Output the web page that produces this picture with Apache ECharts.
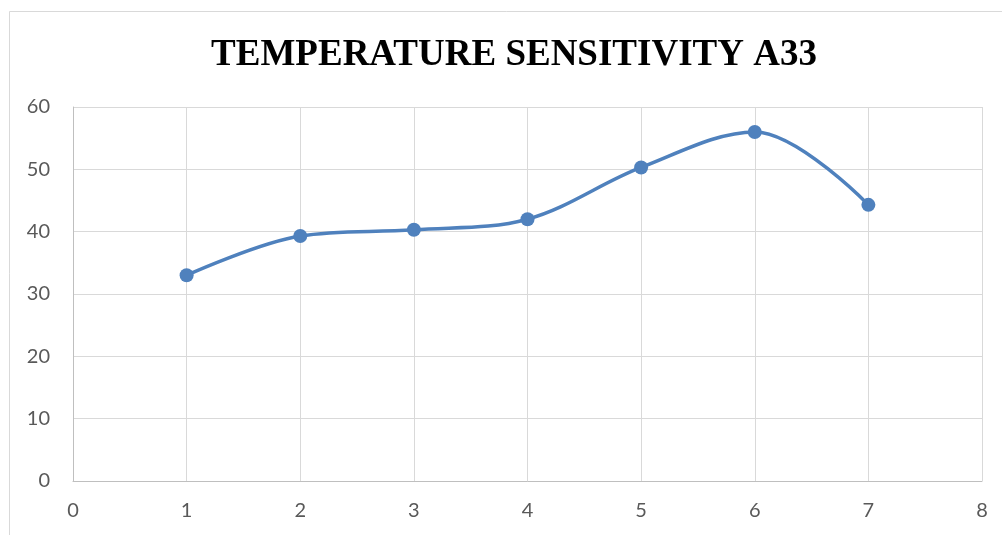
<!DOCTYPE html>
<html>
<head>
<meta charset="utf-8">
<script src="https://cdn.jsdelivr.net/npm/echarts@6/dist/echarts.min.js"></script>
<style>
html,body{margin:0;padding:0;background:#fff;}
#c{width:1002px;height:535px;}
</style>
</head>
<body>
<div id="c"></div>
<script>
var titleText = 'TEMPERATURE SENSITIVITY A33';
var xValues = [1, 2, 3, 4, 5, 6, 7];
var yValues = [33, 39.3, 40.3, 42, 50.3, 56, 44.3];

var chart = echarts.init(document.getElementById('c'), null, {renderer: 'canvas'});
var pts = xValues.map(function (x, i) { return [x, yValues[i]]; });
var labelFont = 'Lato, "Liberation Sans", sans-serif';

chart.setOption({
  animation: false,
  backgroundColor: '#fff',
  graphic: [{
    type: 'rect',
    shape: {x: 9.5, y: 11.5, width: 1010, height: 540},
    style: {fill: 'none', stroke: '#d9d9d9', lineWidth: 1},
    silent: true
  }],
  title: {
    text: titleText,
    left: 509,
    textAlign: 'center',
    top: 32,
    textStyle: {
      fontFamily: '"Liberation Serif", "Times New Roman", serif',
      fontWeight: 'bold',
      fontSize: 37,
      color: '#000'
    }
  },
  grid: {left: 73, right: 20, top: 107, bottom: 54, containLabel: false},
  xAxis: {
    type: 'value',
    min: 0, max: 8, interval: 1,
    axisLine: {show: true, lineStyle: {color: '#bfbfbf', width: 1}},
    axisTick: {show: false},
    splitLine: {show: true, lineStyle: {color: '#d9d9d9', width: 1}},
    axisLabel: {color: '#595959', fontSize: 20, fontFamily: labelFont, margin: 20}
  },
  yAxis: {
    type: 'value',
    min: 0, max: 60, interval: 10,
    axisLine: {show: true, lineStyle: {color: '#bfbfbf', width: 1}},
    axisTick: {show: false},
    splitLine: {show: true, lineStyle: {color: '#d9d9d9', width: 1}},
    axisLabel: {color: '#595959', fontSize: 20, fontFamily: labelFont, margin: 23}
  },
  series: [{
    type: 'line',
    data: pts,
    smooth: 0.35,
    symbol: 'circle',
    symbolSize: 14,
    lineStyle: {color: '#4f81bd', width: 3.5},
    itemStyle: {color: '#4f81bd'}
  }]
});
</script>
</body>
</html>
